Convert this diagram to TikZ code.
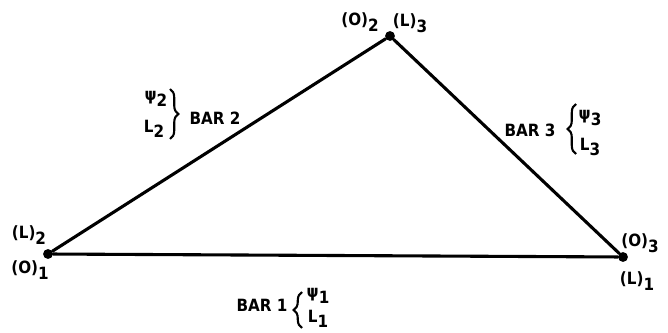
\documentclass[tikz,border=0pt]{standalone}
\usepackage{fontspec}
\setmainfont{DejaVu Sans Condensed}
\usetikzlibrary{decorations.pathreplacing}
\newcommand\lo[1]{\raisebox{-0.6ex}{#1}}
\tikzset{
  bar/.style={line width=2.2pt, line cap=round},
  joint/.style={circle, fill=black, inner sep=0pt, minimum size=7pt},
  lbl/.style={font=\bfseries\fontsize{12}{14}\selectfont, inner sep=1pt},
  brc/.style={decorate, decoration={brace, amplitude=6pt}, line width=1.5pt}}

\begin{document}
\begin{tikzpicture}[x=0.025cm, y=-0.025cm]
    \useasboundingbox (0,0) rectangle (668,333);
    % joints
    \node[joint] (left) at (48,254) {};
    \node[joint] (top) at (390,36) {};
    \node[joint] (right) at (623,257) {};
    % bars
    \draw[bar] (left) -- (right);
    \draw[bar] (left) -- (top);
    \draw[bar] (top) -- (right);
    % joint labels
    \node[lbl] (l2) at (29,235) {(L)\lo{2}};
    \node[lbl] (o1) at (30,270) {(O)\lo{1}};
    \node[lbl] (o2) at (360,22) {(O)\lo{2}};
    \node[lbl] (l3) at (410,23) {(L)\lo{3}};
    \node[lbl] (o3) at (640,243) {(O)\lo{3}};
    \node[lbl] (l1) at (637,281) {(L)\lo{1}};
    % bar 2
    \node[lbl] (psi2) at (156,99) {ψ\lo{2}};
    \node[lbl] (len2) at (154,129) {L\lo{2}};
    \draw[brc] (170,89) -- (170,139);
    \node[lbl] (bar2) at (215,118) {BAR 2};
    % bar 3
    \node[lbl] (bar3) at (530,130) {BAR 3};
    \draw[brc] (576,154) -- (576,104);
    \node[lbl] (psi3) at (590,118) {ψ\lo{3}};
    \node[lbl] (len3) at (590,147) {L\lo{3}};
    % bar 1
    \node[lbl] (bar1) at (262,305) {BAR 1};
    \draw[brc] (302,328) -- (302,292);
    \node[lbl] (psi1) at (318,296) {ψ\lo{1}};
    \node[lbl] (len1) at (318,319) {L\lo{1}};
\end{tikzpicture}
\end{document}
